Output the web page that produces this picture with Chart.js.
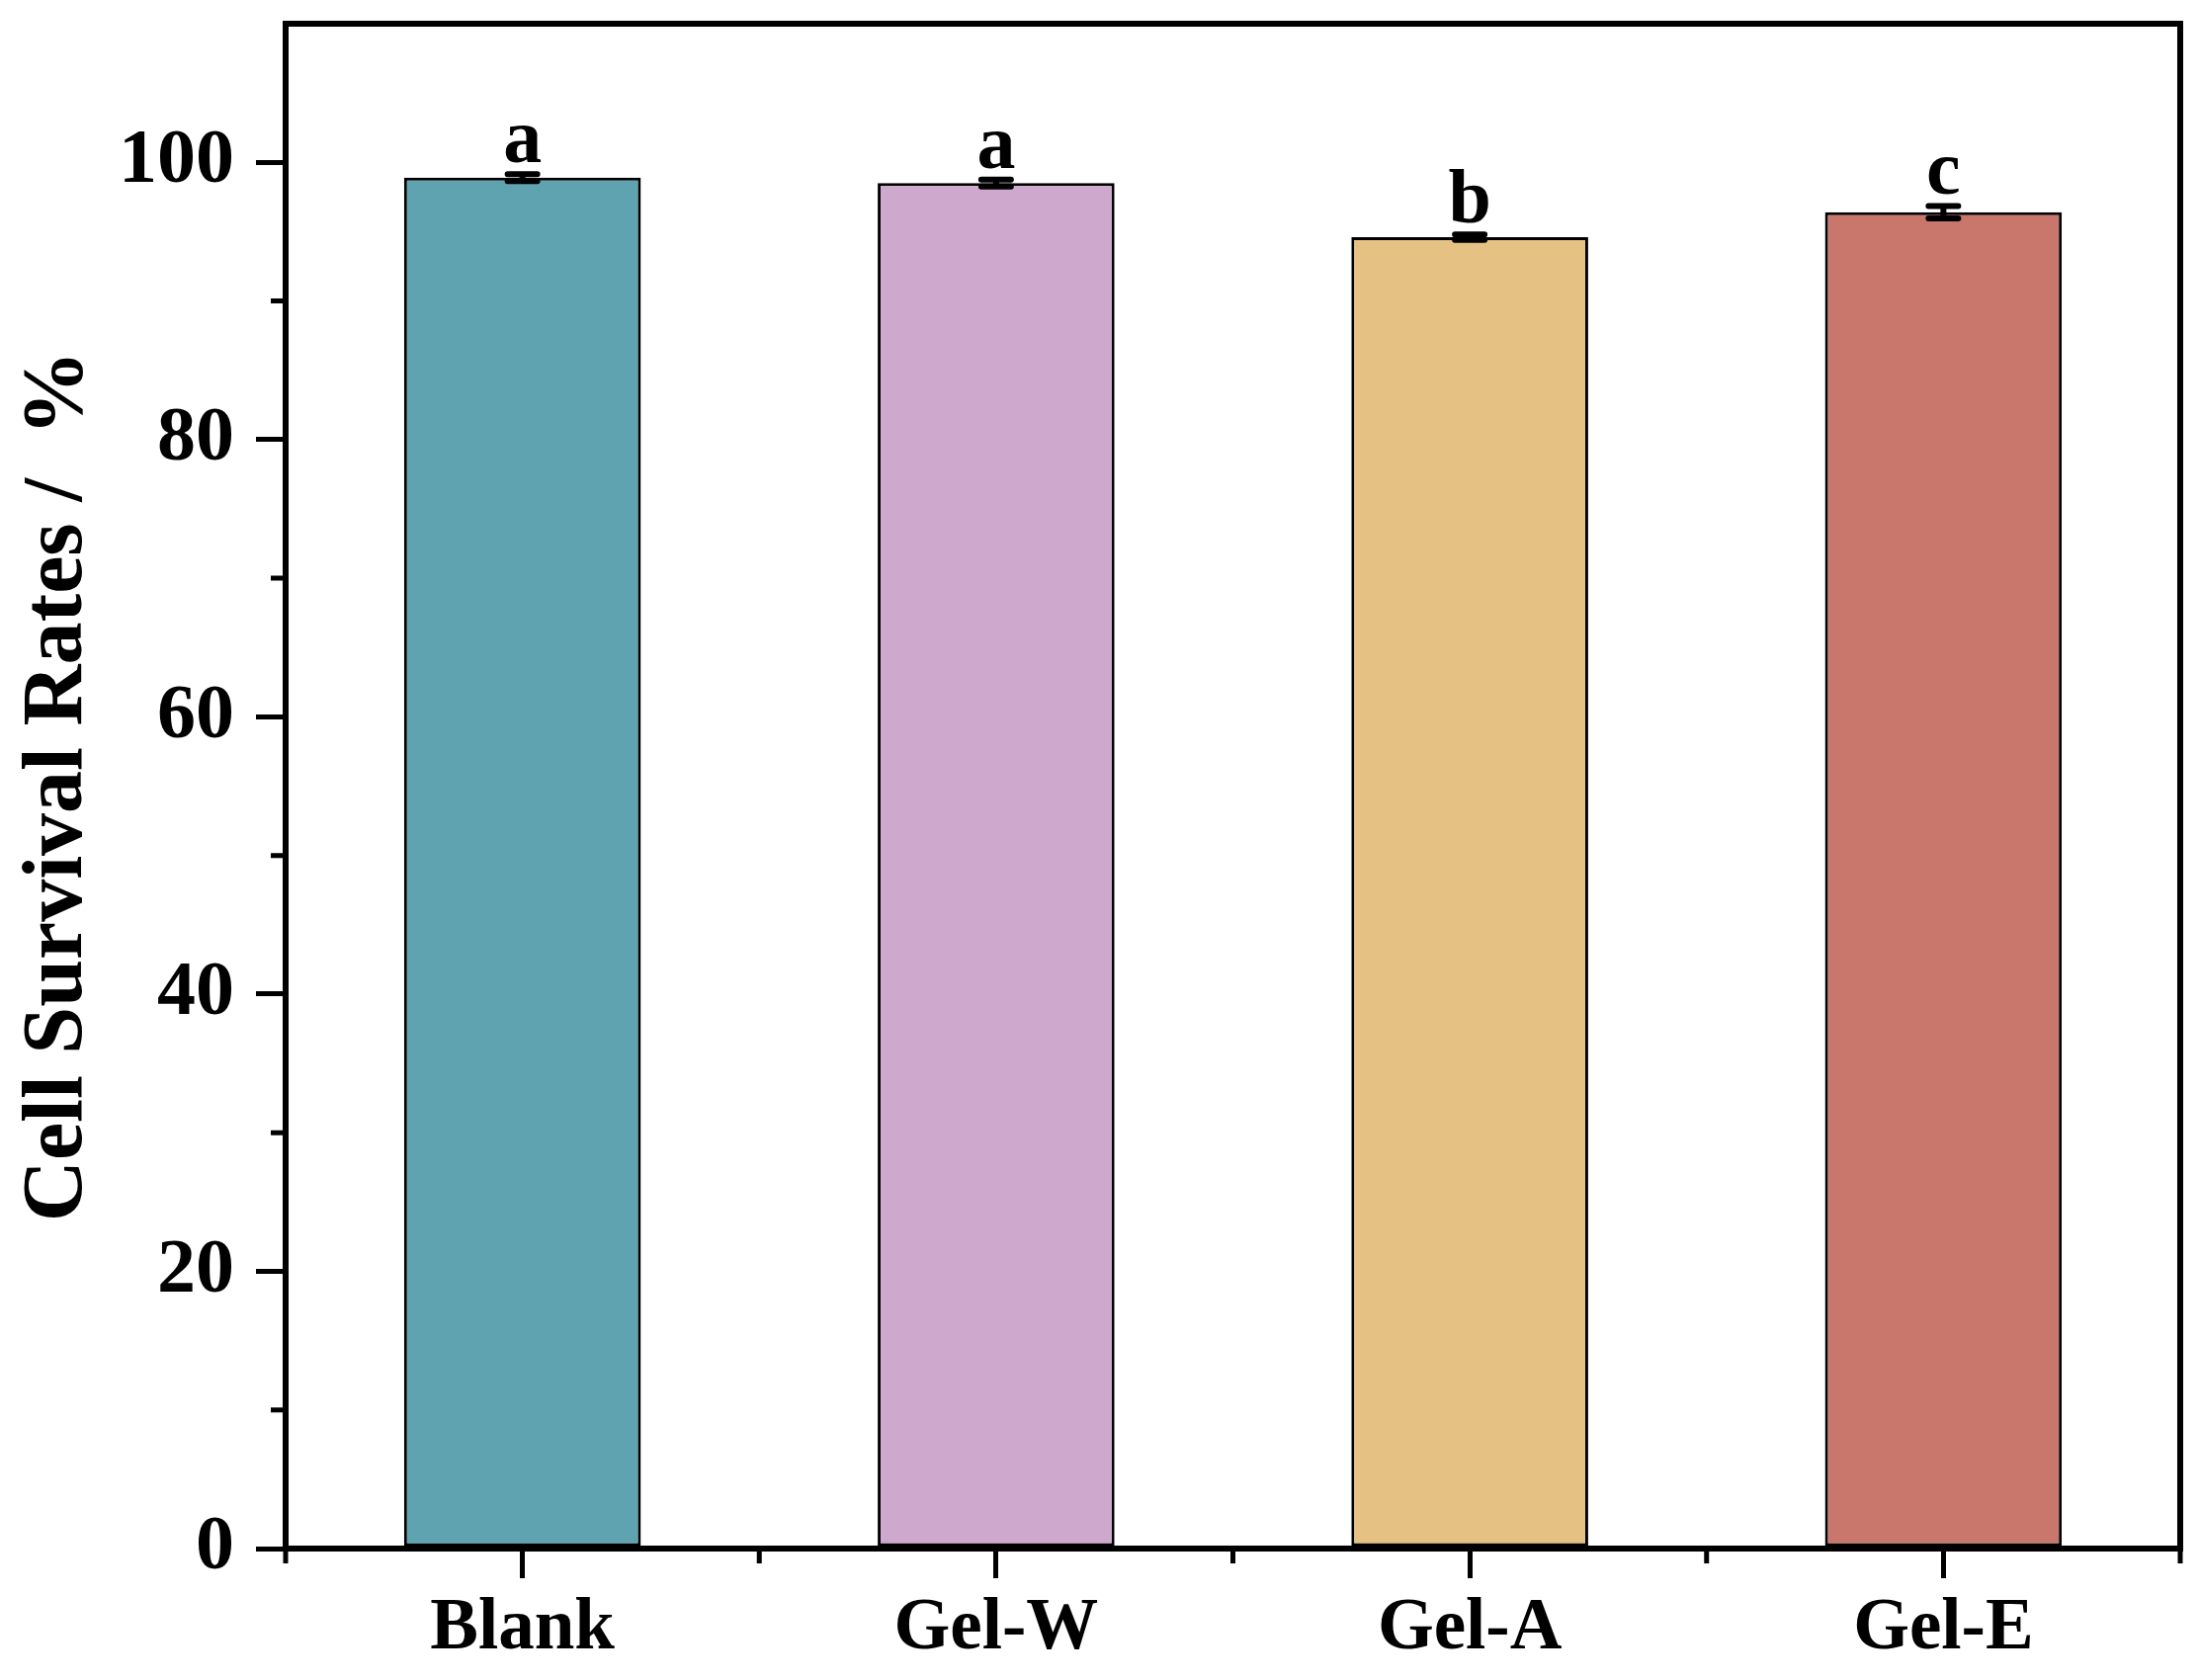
<!DOCTYPE html>
<html>
<head>
<meta charset="utf-8">
<script src="https://cdn.jsdelivr.net/npm/chart.js@4.4.1/dist/chart.umd.min.js"></script>
<style>
  html, body { margin: 0; padding: 0; background: #fff; }
  canvas { display: block; }
</style>
</head>
<body>
<canvas id="myChart" width="2225" height="1700"></canvas>
<script>
const categories = ['Blank', 'Gel-W', 'Gel-A', 'Gel-E'];
const survival = [98.9, 98.5, 94.6, 96.4];
const errors = [0.25, 0.25, 0.2, 0.45];
const letters = ['a', 'a', 'b', 'c'];
const barColors = ['rgb(96, 163, 176)', 'rgb(206, 169, 205)', 'rgb(230, 193, 132)', 'rgb(201, 118, 108)'];
const yMin = 0;
const yMax = 110;
const yMinorTicks = [10, 30, 50, 70, 90];

const serif = '"Liberation Serif", "Times New Roman", serif';

// minor ticks, error bars, letters and the top/right frame
const extras = {
  id: 'extras',
  afterDatasetsDraw(chart) {
    const ctx = chart.ctx;
    const x = chart.scales.x, y = chart.scales.y;
    ctx.save();
    ctx.strokeStyle = '#000';
    ctx.lineWidth = 6;
    ctx.lineCap = 'round';
    survival.forEach((v, i) => {
      const px = x.getPixelForValue(i);
      const top = y.getPixelForValue(v + errors[i]);
      const bot = y.getPixelForValue(v - errors[i]);
      ctx.beginPath();
      ctx.moveTo(px, top); ctx.lineTo(px, bot);
      ctx.moveTo(px - 15, top); ctx.lineTo(px + 15, top);
      ctx.moveTo(px - 15, bot); ctx.lineTo(px + 15, bot);
      ctx.stroke();
      ctx.fillStyle = '#000';
      ctx.font = 'bold 78px ' + serif;
      ctx.textAlign = 'center';
      ctx.textBaseline = 'alphabetic';
      ctx.fillText(letters[i], px, top - 12);
    });
    ctx.restore();
  },
  afterDraw(chart) {
    const ctx = chart.ctx;
    const x = chart.scales.x, y = chart.scales.y;
    const a = chart.chartArea;
    ctx.save();
    ctx.strokeStyle = '#000';
    ctx.lineCap = 'butt';
    ctx.lineWidth = 5;
    ctx.beginPath();
    yMinorTicks.forEach(v => {
      const py = y.getPixelForValue(v);
      ctx.moveTo(a.left, py); ctx.lineTo(a.left - 15, py);
    });
    for (let i = 0; i <= categories.length; i++) {
      const px = x.getPixelForValue(i - 0.5);
      ctx.moveTo(px, a.bottom); ctx.lineTo(px, a.bottom + 15);
    }
    ctx.stroke();
    ctx.lineWidth = 6;
    ctx.beginPath();
    ctx.moveTo(a.left - 3, a.top);
    ctx.lineTo(a.right, a.top);
    ctx.lineTo(a.right, a.bottom + 3);
    ctx.stroke();
    ctx.restore();
  }
};

document.addEventListener('DOMContentLoaded', function () {
  new Chart(document.getElementById('myChart').getContext('2d'), {
    type: 'bar',
    data: {
      labels: categories,
      datasets: [{
        data: survival,
        backgroundColor: barColors,
        borderColor: '#000',
        borderWidth: 3,
        borderSkipped: false,
        barPercentage: 0.5,
        categoryPercentage: 1.0
      }]
    },
    options: {
      responsive: false,
      devicePixelRatio: 1,
      animation: false,
      layout: { padding: { top: 24, right: 19, left: 0, bottom: 0 } },
      plugins: { legend: { display: false }, tooltip: { enabled: false } },
      scales: {
        x: {
          grid: { offset: false, drawOnChartArea: false, color: '#000', tickLength: 30, lineWidth: 5 },
          border: { display: true, color: '#000', width: 6 },
          ticks: { color: '#000', padding: 8, font: { family: serif, weight: 'bold', size: 73 } },
          afterFit(s) { s.height = 133; s.paddingLeft = 0; s.paddingRight = 0; }
        },
        y: {
          min: yMin,
          max: yMax,
          ticks: {
            stepSize: 10,
            color: '#000',
            padding: 22,
            font: { family: serif, weight: 'bold', size: 78 },
            callback: v => (v % 20 === 0 ? v : '')
          },
          grid: {
            drawOnChartArea: false,
            tickLength: 30,
            lineWidth: 5,
            color: c => (c.tick && c.tick.value % 20 === 0 && c.tick.value <= 100 ? '#000' : 'rgba(0,0,0,0)')
          },
          border: { display: true, color: '#000', width: 6 },
          title: {
            display: true,
            text: 'Cell Survival Rates /  %',
            color: '#000',
            padding: 0,
            font: { family: serif, weight: 'bold', size: 86, lineHeight: 1.4 }
          },
          afterFit(s) { s.width = 289; s.paddingTop = 0; s.paddingBottom = 0; }
        }
      }
    },
    plugins: [extras]
  });
});
</script>
</body>
</html>
